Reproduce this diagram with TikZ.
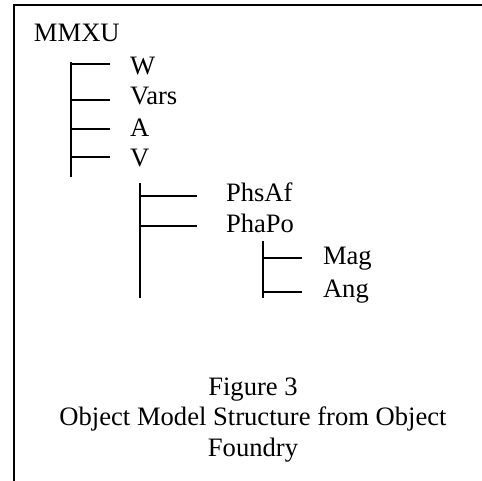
\documentclass[tikz,border=0pt]{standalone}
\usepackage{fontspec}
\setmainfont{Liberation Serif}
\begin{document}
\begin{tikzpicture}[x=1pt,y=-1pt,
  every node/.style={inner sep=0pt,outer sep=0pt,font=\fontsize{26.6}{30}\selectfont},
  lbl/.style={anchor=base west},
  captext/.style={anchor=base},
  rule/.style={line width=2pt,line cap=butt}]
\useasboundingbox (0,0) rectangle (482,481);

% open frame: top and left edges only
\coordinate (frameTL) at (13.5,5);
\coordinate (frameTR) at (482,5);
\coordinate (frameBL) at (13.5,481);
\draw[rule] (frameTR) -- (frameTL) -- (frameBL);

% root
\node[lbl] (mmxu) at (34,42) {MMXU};

% first level
\coordinate (t1top) at (71,62.5);
\coordinate (t1bot) at (71,177);
\draw[rule] (t1top) -- (t1bot);
\coordinate (t1a) at (71,64);    \coordinate (t1aE) at (110,64);
\coordinate (t1b) at (71,100.5); \coordinate (t1bE) at (110,100.5);
\coordinate (t1c) at (71,129);   \coordinate (t1cE) at (110,129);
\coordinate (t1d) at (71,157.5); \coordinate (t1dE) at (110,157.5);
\draw[rule] (t1a) -- (t1aE);
\draw[rule] (t1b) -- (t1bE);
\draw[rule] (t1c) -- (t1cE);
\draw[rule] (t1d) -- (t1dE);
\node[lbl] (w)    at (130,75)  {W};
\node[lbl] (vars) at (130,105) {Vars};
\node[lbl] (a)    at (130,137) {A};
\node[lbl] (v)    at (130,167) {V};

% second level, under V
\coordinate (t2top) at (140,183);
\coordinate (t2bot) at (140,298);
\draw[rule] (t2top) -- (t2bot);
\coordinate (t2a) at (140,196.5); \coordinate (t2aE) at (197,196.5);
\coordinate (t2b) at (140,226.5); \coordinate (t2bE) at (197,226.5);
\draw[rule] (t2a) -- (t2aE);
\draw[rule] (t2b) -- (t2bE);
\node[lbl] (phsaf) at (226,202) {PhsAf};
\node[lbl] (phapo) at (226,233) {PhaPo};

% third level, under PhaPo
\coordinate (t3top) at (263,241.5);
\coordinate (t3bot) at (263,298);
\draw[rule] (t3top) -- (t3bot);
\coordinate (t3a) at (263,258); \coordinate (t3aE) at (302,258);
\coordinate (t3b) at (263,292); \coordinate (t3bE) at (302,292);
\draw[rule] (t3a) -- (t3aE);
\draw[rule] (t3b) -- (t3bE);
\node[lbl] (mag) at (323,265) {Mag};
\node[lbl] (ang) at (323,297) {Ang};

% caption
\node[captext] (cap1) at (253,395) {Figure 3};
\node[captext] (cap2) at (253,425) {Object Model Structure from Object};
\node[captext] (cap3) at (253,456.5) {Foundry};
\end{tikzpicture}
\end{document}
